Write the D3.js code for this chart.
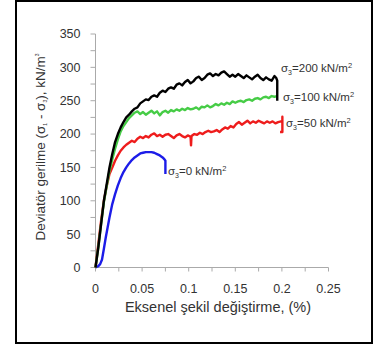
<!DOCTYPE html>
<html>
<head>
<meta charset="utf-8">
<script src="https://cdn.jsdelivr.net/npm/d3@7"></script>
<style>
  html, body { margin: 0; padding: 0; background: #fff; }
  svg { display: block; }
</style>
</head>
<body>
<svg id="chart" width="379" height="351"></svg>
<script>
// ─── Data (strain %, deviator stress kN/m²) ───────────────────────────────
const xTicks = [0, 0.05, 0.1, 0.15, 0.2, 0.25]
const yTicks = [0, 50, 100, 150, 200, 250, 300, 350]

const s200 = [
  [0,0],[0.003,30],[0.006,65],[0.009,100],[0.012,125],[0.015,150],[0.018,170],[0.021,188],
  [0.024,200],[0.027,210],[0.030,218],[0.033,225],[0.036,229],[0.039,234],[0.042,238],
  [0.045,240],[0.048,246],[0.051,249],[0.054,252],[0.057,251],[0.060,256],[0.063,258],
  [0.066,256],[0.069,262],[0.072,265],[0.075,263],[0.078,268],[0.081,270],[0.084,268],
  [0.087,274],[0.090,276],[0.093,273],[0.096,278],[0.099,281],[0.102,276],[0.105,279],
  [0.108,284],[0.111,286],[0.114,281],[0.117,284],[0.120,289],[0.123,291],[0.126,287],
  [0.129,290],[0.132,288],[0.135,292],[0.138,294],[0.141,290],[0.144,286],[0.147,289],
  [0.150,286],[0.153,290],[0.156,287],[0.159,284],[0.162,288],[0.165,285],[0.168,282],
  [0.171,286],[0.174,289],[0.177,284],[0.180,281],[0.183,285],[0.186,282],[0.189,280],
  [0.192,287],[0.194,284],[0.195,280],[0.195,250]
]
const s100 = [
  [0,0],[0.003,30],[0.006,65],[0.009,98],[0.012,122],[0.015,145],[0.018,162],[0.021,178],
  [0.024,192],[0.027,204],[0.030,212],[0.033,218],[0.036,224],[0.039,228],[0.042,232],
  [0.045,234],[0.048,230],[0.051,233],[0.054,229],[0.057,232],[0.060,235],[0.063,231],
  [0.066,234],[0.069,228],[0.072,233],[0.075,235],[0.078,232],[0.081,236],[0.084,234],
  [0.087,237],[0.090,235],[0.093,238],[0.096,236],[0.099,239],[0.102,237],[0.105,238],
  [0.108,240],[0.111,237],[0.114,241],[0.117,240],[0.120,243],[0.123,240],[0.126,242],
  [0.129,245],[0.132,243],[0.135,246],[0.138,244],[0.141,247],[0.144,245],[0.147,249],
  [0.150,247],[0.153,249],[0.156,250],[0.159,248],[0.162,251],[0.165,252],[0.168,250],
  [0.171,253],[0.174,254],[0.177,252],[0.180,255],[0.183,256],[0.186,254],[0.189,257],
  [0.192,256],[0.195,257]
]
const s50 = [
  [0,0],[0.003,35],[0.006,70],[0.009,100],[0.012,122],[0.015,140],[0.018,150],[0.021,160],
  [0.024,168],[0.027,175],[0.030,180],[0.033,184],[0.036,187],[0.039,190],[0.042,188],
  [0.045,193],[0.048,196],[0.051,194],[0.054,197],[0.057,195],[0.060,199],[0.063,201],
  [0.066,197],[0.069,199],[0.072,196],[0.075,199],[0.078,200],[0.081,197],[0.084,194],
  [0.087,198],[0.090,200],[0.093,197],[0.096,195],[0.099,198],[0.102,196],[0.1025,183],
  [0.103,197],[0.106,200],[0.109,199],[0.112,202],[0.115,200],[0.118,203],[0.121,205],
  [0.124,203],[0.127,204],[0.130,206],[0.133,203],[0.136,207],[0.139,210],[0.142,208],
  [0.145,212],[0.148,210],[0.151,215],[0.154,218],[0.157,214],[0.160,217],[0.163,220],
  [0.166,216],[0.169,219],[0.172,217],[0.175,220],[0.178,218],[0.181,216],[0.184,219],
  [0.187,217],[0.190,219],[0.193,216],[0.196,218],[0.199,219],[0.2005,219],[0.2005,226],
  [0.2005,203],[0.198,203]
]
const s0 = [
  [0,0],[0.003,2],[0.005,5],[0.007,12],[0.009,28],[0.011,45],[0.013,60],[0.015,75],
  [0.018,95],[0.021,110],[0.024,123],[0.027,134],[0.030,143],[0.033,150],[0.036,156],
  [0.039,161],[0.042,165],[0.045,168],[0.048,171],[0.051,172],[0.054,173],[0.057,173],
  [0.060,173],[0.063,172],[0.066,170],[0.069,168],[0.072,165],[0.074,162],[0.075,160],
  [0.075,140]
]

const series = [
  { name: '200', data: s200, color: '#000000', label: [281, 72] },
  { name: '100', data: s100, color: '#46cc46', label: [283, 101] },
  { name: '50',  data: s50,  color: '#ee1c1c', label: [286, 127] },
  { name: '0',   data: s0,   color: '#1c1ce8', label: [168, 175] },
]

// ─── Layout ─────────────────────────────────────────────────────────────────
const svg = d3.select('#chart')

svg.append('rect')
  .attr('x', 16).attr('y', 1)
  .attr('width', 356).attr('height', 342)
  .attr('fill', '#fff')
  .attr('stroke', '#000')
  .attr('stroke-width', 2)

const x = d3.scaleLinear().domain([0, 0.25]).range([95.5, 328.5])
const y = d3.scaleLinear().domain([0, 350]).range([267.5, 34])

const axisColor = '#aaa'
const textColor = '#333'
const font = 'Arial, "Liberation Sans", sans-serif'

// ── Y axis ─────────────────────────────────────────────────────────────────
const gy = svg.append('g').attr('transform', `translate(${x(0)},0)`)
gy.append('line').attr('y1', y(0)).attr('y2', y(350)).attr('stroke', axisColor)
gy.selectAll('line.tk')
  .data(d3.range(0, 351, 25))
  .join('line')
  .attr('class', 'tk')
  .attr('x1', -5).attr('x2', 0)
  .attr('y1', d => y(d)).attr('y2', d => y(d))
  .attr('stroke', axisColor)
gy.selectAll('text')
  .data(yTicks)
  .join('text')
  .attr('x', -15).attr('y', d => y(d))
  .attr('dy', '0.35em')
  .attr('text-anchor', 'end')
  .attr('fill', textColor)
  .attr('font-family', font)
  .attr('font-size', '12.5px')
  .text(d => d)

// ── X axis ─────────────────────────────────────────────────────────────────
const gx = svg.append('g').attr('transform', `translate(0,${y(0)})`)
gx.append('line').attr('x1', x(0)).attr('x2', x(0.25)).attr('stroke', axisColor)
gx.selectAll('line.tk')
  .data(d3.range(0, 11).map(i => i * 0.025))
  .join('line')
  .attr('class', 'tk')
  .attr('x1', d => x(d)).attr('x2', d => x(d))
  .attr('y1', 0).attr('y2', 4)
  .attr('stroke', axisColor)
gx.selectAll('text')
  .data(xTicks)
  .join('text')
  .attr('x', d => x(d)).attr('y', 25)
  .attr('text-anchor', 'middle')
  .attr('fill', textColor)
  .attr('font-family', font)
  .attr('font-size', '12.5px')
  .text(d => d)

// ── Axis titles ──────────────────────────────────────────────────────────────
svg.append('text')
  .attr('x', 218).attr('y', 312)
  .attr('text-anchor', 'middle')
  .attr('fill', textColor)
  .attr('font-family', font)
  .attr('font-size', '14.5px')
  .text('Eksenel şekil değiştirme, (%)')

const yt = svg.append('text')
  .attr('transform', 'translate(45,147) rotate(-90)')
  .attr('text-anchor', 'middle')
  .attr('fill', textColor)
  .attr('font-family', font)
  .attr('font-size', '13.5px')
yt.append('tspan').text('Deviatör gerilme (σ')
yt.append('tspan').attr('font-size', '5px').attr('dy', 2).text('1')
yt.append('tspan').attr('dy', -2).text(' - σ')
yt.append('tspan').attr('font-size', '5px').attr('dy', 2).text('3')
yt.append('tspan').attr('dy', -2).text('), kN/m')
yt.append('tspan').attr('font-size', '5px').attr('dy', -6).text('3')

// ── Curves ─────────────────────────────────────────────────────────────────
const line = d3.line().x(d => x(d[0])).y(d => y(d[1]))

svg.append('g')
  .selectAll('path')
  .data(series.slice().reverse())
  .join('path')
  .attr('d', d => line(d.data))
  .attr('fill', 'none')
  .attr('stroke', d => d.color)
  .attr('stroke-width', 2.4)
  .attr('stroke-linejoin', 'round')

// ── Curve labels ─────────────────────────────────────────────────────────────
series.forEach(s => {
  const t = svg.append('text')
    .attr('x', s.label[0]).attr('y', s.label[1])
    .attr('fill', textColor)
    .attr('font-family', font)
    .attr('font-size', '11.5px')
  t.append('tspan').text('σ')
  t.append('tspan').attr('font-size', '7px').attr('dy', 3).text('3')
  t.append('tspan').attr('dy', -3).text(`=${s.name} kN/m`)
  t.append('tspan').attr('font-size', '7.5px').attr('dy', -4).text('2')
})
</script>
</body>
</html>
